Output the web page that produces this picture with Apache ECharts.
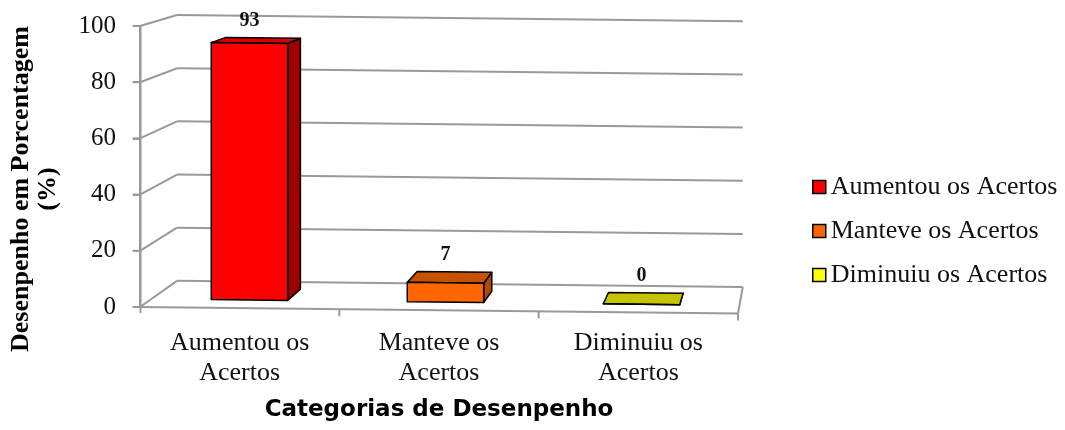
<!DOCTYPE html>
<html>
<head>
<meta charset="utf-8">
<script src="https://cdn.jsdelivr.net/npm/echarts@6/dist/echarts.min.js"></script>
<style>
  html, body { margin: 0; background: #fff; }
  #chart { width: 1065px; height: 430px; }
</style>
</head>
<body>
<div id="chart"></div>
<script>
// data
const categories = ['Aumentou os\nAcertos', 'Manteve os\nAcertos', 'Diminuiu os\nAcertos'];
const seriesNames = ['Aumentou os Acertos', 'Manteve os Acertos', 'Diminuiu os Acertos'];
const values = [93, 7, 0];
const yTicks = [0, 20, 40, 60, 80, 100];

// face colours of each 3D bar
const faceColors = [
  { front: '#FF0000', top: '#D80000', side: '#9C0000' },
  { front: '#FF6600', top: '#C45200', side: '#B04A00' },
  { front: '#FFFF00', top: '#C4C400', side: '#A6A600' }
];

// fake 3D: everything is drawn on the front plane then pushed back towards a vanishing point
const GRID_LEFT = 140;
const VP = [826, -177];
const DEPTH_SHRINK = 0.054; // back wall is ~5% smaller than the front plane
const SKEW = 0.011;         // floor tilts down slightly to the right
const BAR_RATIO = 0.39;
const BAR_Z = [0.31, 0.74]; // front / back face depth of the bars
const GRAY = '#999';

function project(p, z) {
  const s = 1 - DEPTH_SHRINK * z;
  const y = p[1] + SKEW * (p[0] - GRID_LEFT);
  return [VP[0] + s * (p[0] - VP[0]), VP[1] + s * (y - VP[1])];
}

function seg(a, b) {
  return {
    type: 'line',
    shape: { x1: a[0], y1: a[1], x2: b[0], y2: b[1] },
    style: { stroke: GRAY, lineWidth: 2 },
    z2: 5,
    silent: true
  };
}

function renderFrame(params, api) {
  const v = api.value(1);
  const band = api.size([1, 0])[0];
  const p = api.coord([0, v]);
  const left = [p[0] - band / 2, p[1]];
  const right = [left[0] + band * categories.length, p[1]];
  const kids = [
    seg([left[0] - 7.5, left[1]], [left[0] + 0.5, left[1]]),
    seg(project(left, 0), project(left, 1)),
    seg(project(left, 1), project(right, 1))
  ];
  if (v === 0) {
    const top = api.coord([0, yTicks[yTicks.length - 1]]);
    kids.push(seg([left[0] + 0.5, top[1]], [left[0] + 0.5, left[1] + 6]));
    kids.push(seg(project(left, 0), project(right, 0)));
    kids.push(seg(project(right, 0), project(right, 1)));
    for (let k = 1; k <= categories.length; k++) {
      const t = project([left[0] + k * band, p[1]], 0);
      kids.push(seg(t, [t[0], t[1] + 7]));
    }
  }
  return { type: 'group', children: kids };
}

function makeBar(k) {
  return function (params, api) {
    const i = api.value(0), v = api.value(1);
    const half = api.size([1, 0])[0] * BAR_RATIO / 2;
    const top = api.coord([i, v]), base = api.coord([i, 0]);
    const zf = BAR_Z[0], zb = BAR_Z[1];
    const xl = top[0] - half, xr = top[0] + half;
    const FTL = project([xl, top[1]], zf), FTR = project([xr, top[1]], zf);
    const FBL = project([xl, base[1]], zf), FBR = project([xr, base[1]], zf);
    const BTL = project([xl, top[1]], zb), BTR = project([xr, top[1]], zb);
    const BBR = project([xr, base[1]], zb);
    const col = faceColors[k];
    const edge = { stroke: '#000', lineWidth: 1.5, lineJoin: 'round' };
    const labX = project([top[0], top[1]], zf)[0];
    const labY = project([top[0], top[1]], zb)[1] - 17;
    return {
      type: 'group',
      children: [
        { type: 'polygon', shape: { points: [FTR, BTR, BBR, FBR] }, style: Object.assign({ fill: col.side }, edge) },
        { type: 'polygon', shape: { points: [FTL, FTR, BTR, BTL] }, style: Object.assign({ fill: col.top }, edge) },
        { type: 'polygon', shape: { points: [FTL, FTR, FBR, FBL] }, style: Object.assign({ fill: col.front }, edge) },
        {
          type: 'text',
          x: labX, y: labY,
          style: {
            text: String(v), fill: '#111', align: 'center', verticalAlign: 'middle',
            font: 'bold 20px "Liberation Serif", serif'
          }
        }
      ]
    };
  };
}

const chart = echarts.init(document.getElementById('chart'));

chart.setOption({
  animation: false,
  backgroundColor: '#fff',
  grid: { left: GRID_LEFT, right: 327, top: 26, bottom: 123, outerBoundsMode: 'none' },
  graphic: [{
    type: 'text',
    x: 35, y: 189,
    rotation: Math.PI / 2,
    style: {
      text: 'Desenpenho em Porcentagem\n(%)',
      align: 'center', verticalAlign: 'middle',
      font: 'bold 26px "Liberation Serif", serif',
      lineHeight: 27, fill: '#000'
    }
  }],
  legend: {
    orient: 'vertical',
    left: 807,
    top: 169,
    itemWidth: 13,
    itemHeight: 13,
    itemGap: 18,
    icon: 'rect',
    data: seriesNames.map((n, k) => ({
      name: n,
      itemStyle: { color: faceColors[k].front, borderColor: '#000', borderWidth: 1.5 }
    })),
    textStyle: { fontFamily: '"Liberation Serif", serif', fontSize: 26, color: '#111' }
  },
  xAxis: {
    type: 'category',
    data: categories,
    axisLine: { show: false },
    axisTick: { show: false },
    axisLabel: {
      margin: 21,
      fontFamily: '"Liberation Serif", serif',
      fontSize: 26,
      lineHeight: 30,
      color: '#111'
    },
    name: 'Categorias de Desenpenho',
    nameLocation: 'middle',
    nameGap: 92,
    nameTextStyle: { fontFamily: '"DejaVu Sans", sans-serif', fontWeight: 'bold', fontSize: 23, color: '#000' }
  },
  yAxis: {
    type: 'value',
    min: 0,
    max: 100,
    interval: 20,
    axisLine: { show: true, onZero: false, lineStyle: { color: GRAY, width: 2 } },
    axisTick: { show: true, length: 7, lineStyle: { color: GRAY, width: 2 } },
    splitLine: { show: false },
    axisLabel: {
      margin: 24,
      fontFamily: '"Liberation Serif", serif',
      fontSize: 25,
      color: '#111'
    }
  },
  series: [
    {
      type: 'custom',
      name: 'frame',
      renderItem: renderFrame,
      data: yTicks.map(v => [0, v]),
      clip: false,
      silent: true,
      z: 3
    }
  ].concat(seriesNames.map((n, k) => ({
    type: 'custom',
    name: n,
    renderItem: makeBar(k),
    data: [[k, values[k]]],
    itemStyle: { color: faceColors[k].front },
    clip: false,
    z: 4
  })))
});
</script>
</body>
</html>
